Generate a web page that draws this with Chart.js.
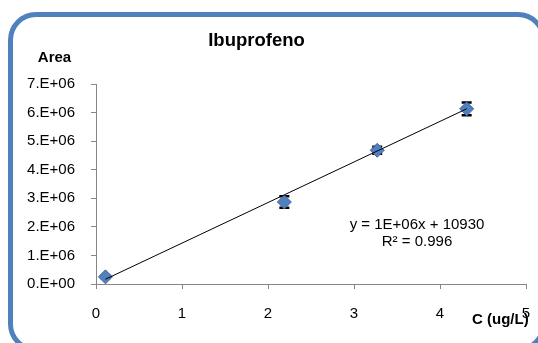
<!DOCTYPE html>
<html>
<head>
<meta charset="utf-8">
<script src="https://cdn.jsdelivr.net/npm/chart.js@4"></script>
<style>
  html, body { margin: 0; padding: 0; background: #fff; overflow: hidden; }
  #wrap { position: relative; width: 538px; height: 343px; overflow: hidden; }
  #frame {
    position: absolute; left: 7.5px; top: 12px; width: 538.5px; height: 340px;
    box-sizing: border-box; border: 5px solid #4f81bd; border-radius: 28px;
  }
  canvas { position: absolute; left: 0; top: 0; }
</style>
</head>
<body>
<div id="wrap">
  <div id="frame"></div>
  <canvas id="ibuChart" width="538" height="343"></canvas>
</div>
<script>
// Calibration data: concentration (ug/L) vs peak area
const concentration = [0.11, 2.19, 3.27, 4.31];
const area = [250000, 2870000, 4680000, 6130000];
const areaError = [40000, 200000, 120000, 220000];

const xTickLabels = ['0', '1', '2', '3', '4', '5'];
const yTickLabels = ['0.E+00', '1.E+06', '2.E+06', '3.E+06', '4.E+06', '5.E+06', '6.E+06', '7.E+06'];

// Linear trendline
const trendSlope = 1.42e6;
const trendIntercept = 10930;
const rSquared = 0.996;

const FONT = '"Liberation Sans", Arial, sans-serif';
const AXIS_GRAY = '#868686';

const points = concentration.map((c, i) => ({ x: c, y: area[i] }));
const xMin = Math.min(...concentration);
const xMax = Math.max(...concentration);
const trend = [xMin, xMax].map(x => ({ x: x, y: trendSlope * x + trendIntercept }));

function sciLabel(v) {
  const [m, e] = v.toExponential(0).split('e');
  const exp = parseInt(e, 10);
  return m.toUpperCase() + 'E' + (exp < 0 ? '-' : '+') + String(Math.abs(exp)).padStart(2, '0');
}
const equationText = 'y = ' + sciLabel(trendSlope) + 'x + ' + trendIntercept;
const r2Text = 'R\u00B2 = ' + rSquared;

// Error bars under the markers
const errorBars = {
  id: 'errorBars',
  beforeDatasetsDraw(chart) {
    const { ctx, scales: { x, y } } = chart;
    ctx.save();
    ctx.strokeStyle = '#000';
    concentration.forEach((c, i) => {
      const px = x.getPixelForValue(c);
      const top = y.getPixelForValue(area[i] + areaError[i]);
      const bot = y.getPixelForValue(area[i] - areaError[i]);
      ctx.lineWidth = 1.5;
      ctx.beginPath();
      ctx.moveTo(px, top); ctx.lineTo(px, bot);
      ctx.stroke();
      ctx.lineWidth = 2.5;
      ctx.beginPath();
      ctx.moveTo(px - 5, top); ctx.lineTo(px + 5, top);
      ctx.moveTo(px - 5, bot); ctx.lineTo(px + 5, bot);
      ctx.stroke();
    });
    ctx.restore();
  }
};

// Title, axis titles and trendline equation
const labels = {
  id: 'labels',
  afterDraw(chart) {
    const ctx = chart.ctx;
    ctx.save();
    ctx.fillStyle = '#000';
    ctx.textBaseline = 'alphabetic';
    ctx.textAlign = 'center';
    ctx.font = 'bold 18.5px ' + FONT;
    ctx.fillText('Ibuprofeno', 256.5, 46);
    ctx.font = 'bold 15px ' + FONT;
    ctx.fillText('Area', 54.5, 62);
    ctx.textAlign = 'left';
    ctx.fillText('C (ug/L)', 472, 324);
    ctx.textAlign = 'center';
    ctx.font = '15px ' + FONT;
    ctx.fillText(equationText, 417, 228.5);
    ctx.fillText(r2Text, 417, 246);
    ctx.restore();
  }
};

const ctx = document.getElementById('ibuChart').getContext('2d');
const ibuChart = new Chart(ctx, {
  type: 'scatter',
  data: {
    datasets: [{
      label: 'Tendencia',
      type: 'line',
      data: trend,
      borderColor: '#000',
      borderWidth: 1,
      pointRadius: 0,
      fill: false,
      order: 0
    }, {
      label: 'Ibuprofeno',
      data: points,
      pointStyle: 'rectRot',
      pointRadius: 7,
      pointHoverRadius: 7,
      backgroundColor: '#4f81bd',
      borderColor: '#4a62a6',
      borderWidth: 1,
      order: 1
    }]
  },
  options: {
    responsive: false,
    animation: false,
    events: [],
    layout: { padding: { top: 84, right: 12, left: 0, bottom: 0 } },
    plugins: {
      legend: { display: false },
      title: { display: false },
      tooltip: { enabled: false }
    },
    scales: {
      x: {
        type: 'linear',
        min: 0,
        max: 5,
        afterFit: (s) => { s.height = 59; s.paddingLeft = 0; s.paddingRight = 0; },
        border: { color: AXIS_GRAY, width: 1 },
        grid: { drawOnChartArea: false, drawTicks: true, tickLength: 5, color: AXIS_GRAY },
        ticks: {
          stepSize: 1,
          padding: 16,
          color: '#000',
          font: { family: FONT, size: 15 },
          callback: (v) => xTickLabels[v]
        }
      },
      y: {
        min: 0,
        max: 7e6,
        afterFit: (s) => { s.width = 96; },
        border: { color: AXIS_GRAY, width: 1 },
        grid: { drawOnChartArea: false, drawTicks: true, tickLength: 5, color: AXIS_GRAY },
        ticks: {
          stepSize: 1e6,
          padding: 16,
          color: '#000',
          font: { family: FONT, size: 15 },
          callback: (v) => yTickLabels[Math.round(v / 1e6)]
        }
      }
    }
  },
  plugins: [errorBars, labels]
});
</script>
</body>
</html>
